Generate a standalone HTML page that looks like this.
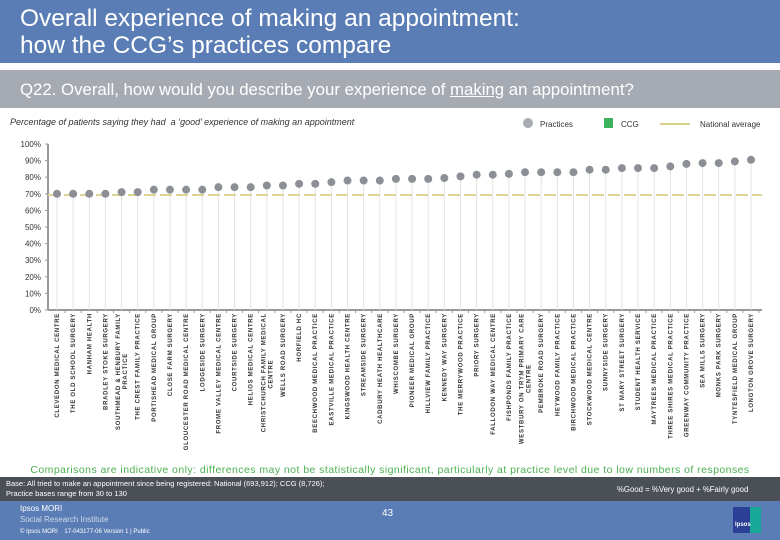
<!DOCTYPE html>
<html><head><meta charset="utf-8"><style>
body{margin:0;width:780px;height:540px;overflow:hidden;background:#fff;font-family:"Liberation Sans",sans-serif;position:relative}
.abs{position:absolute}
</style></head><body>
<div class="abs" style="left:0;top:0;width:780px;height:63px;background:#5a7db5"></div>
<div class="abs" style="left:20px;top:5px;color:#fff;font-size:24.5px;line-height:27px">Overall experience of making an appointment:<br>how the CCG’s practices compare</div>
<div class="abs" style="left:0;top:70px;width:780px;height:38px;background:#a6abb3"></div>
<div class="abs" style="left:20px;top:80px;color:#fff;font-size:16.8px">Q22. Overall, how would you describe your experience of <u>making</u> an appointment?</div>
<div class="abs" style="left:10px;top:117px;color:#333;font-size:9px;font-style:italic">Percentage of patients saying they had&nbsp; a ‘good’ experience of making an appointment</div>

<svg class="abs" style="left:0;top:0" width="780" height="470">
<g id="legend">
<circle cx="528" cy="123" r="5" fill="#a9adb3"/>
<text x="540" y="127" font-size="8" fill="#333">Practices</text>
<rect x="604" y="118" width="9" height="10" fill="#3cb35a"/>
<text x="621" y="127" font-size="8" fill="#333">CCG</text>
<line x1="660" y1="124" x2="690" y2="124" stroke="#d9d08a" stroke-width="2"/>
<text x="700" y="127" font-size="8" fill="#333">National average</text>
</g>
<g id="axes"></g>
<g id="marks"></g>
<g id="xlabels"></g>
</svg>

<div class="abs" style="left:0;width:780px;top:464px;text-align:center;color:#4caf50;font-size:10.5px;letter-spacing:0.45px">Comparisons are indicative only: differences may not be statistically significant, particularly at practice level due to low numbers of responses</div>
<div class="abs" style="left:0;top:477px;width:780px;height:24px;background:#4a5056"></div>
<div class="abs" style="left:6px;top:479px;color:#fff;font-size:7.5px;line-height:10px">Base: All tried to make an appointment since being registered: National (693,912); CCG (8,726);<br>Practice bases range from 30 to 130</div>
<div class="abs" style="left:617px;top:485px;color:#fff;font-size:7.8px">%Good = %Very good + %Fairly good</div>
<div class="abs" style="left:0;top:501px;width:780px;height:39px;background:#5a7db5"></div>
<div class="abs" style="left:20px;top:503px;color:#fff;font-size:8px;line-height:11px">Ipsos MORI<br><span style="color:#cfd9ea">Social Research Institute</span><br><span style="font-size:6px">© Ipsos MORI &nbsp;&nbsp; 17-043177-06 Version 1 | Public</span></div>
<div class="abs" style="left:382px;top:508px;color:#fff;font-size:10px">43</div>
<div class="abs" style="left:733px;top:507px;width:28px;height:26px;background:linear-gradient(90deg,#2a3f95 60%,#17a89a 60%)"><div style="position:absolute;left:2px;top:15px;color:#fff;font-size:6px;font-weight:bold">Ipsos</div></div>

<script>
const categories=[["CLEVEDON MEDICAL CENTRE"],["THE OLD SCHOOL SURGERY"],["HANHAM HEALTH"],["BRADLEY STOKE SURGERY"],["SOUTHMEAD & HENBURY FAMILY","PRACTICE"],["THE CREST FAMILY PRACTICE"],["PORTISHEAD MEDICAL GROUP"],["CLOSE FARM SURGERY"],["GLOUCESTER ROAD MEDICAL CENTRE"],["LODGESIDE SURGERY"],["FROME VALLEY MEDICAL CENTRE"],["COURTSIDE SURGERY"],["HELIOS MEDICAL CENTRE"],["CHRISTCHURCH FAMILY MEDICAL","CENTRE"],["WELLS ROAD SURGERY"],["HORFIELD HC"],["BEECHWOOD MEDICAL PRACTICE"],["EASTVILLE MEDICAL PRACTICE"],["KINGSWOOD HEALTH CENTRE"],["STREAMSIDE SURGERY"],["CADBURY HEATH HEALTHCARE"],["WHISCOMBE SURGERY"],["PIONEER MEDICAL GROUP"],["HILLVIEW FAMILY PRACTICE"],["KENNEDY WAY SURGERY"],["THE MERRYWOOD PRACTICE"],["PRIORY SURGERY"],["FALLODON WAY MEDICAL CENTRE"],["FISHPONDS FAMILY PRACTICE"],["WESTBURY ON TRYM PRIMARY CARE","CENTRE"],["PEMBROKE ROAD SURGERY"],["HEYWOOD FAMILY PRACTICE"],["BIRCHWOOD MEDICAL PRACTICE"],["STOCKWOOD MEDICAL CENTRE"],["SUNNYSIDE SURGERY"],["ST MARY STREET SURGERY"],["STUDENT HEALTH SERVICE"],["MAYTREES MEDICAL PRACTICE"],["THREE SHIRES MEDICAL PRACTICE"],["GREENWAY COMMUNITY PRACTICE"],["SEA MILLS SURGERY"],["MONKS PARK SURGERY"],["TYNTESFIELD MEDICAL GROUP"],["LONGTON GROVE SURGERY"]];
const practiceValues=[70,70,70,70,71,71,72.5,72.5,72.5,72.5,74,74,74,75,75,76,76,77,78,78,78,79,79,79,79.5,80.5,81.5,81.5,82,83,83,83,83,84.5,84.5,85.5,85.5,85.5,86.5,88,88.5,88.5,89.5,90.5];
const nationalAverage=[69.3];
const yTicks=[0,10,20,30,40,50,60,70,80,90,100];
const NS="http://www.w3.org/2000/svg";
const X0=57,X1=751,Y0=310,Y100=144;
function xs(i){return X0+(X1-X0)*i/(categories.length-1);}
function ys(v){return Y0-(Y0-Y100)*v/100;}
function mk(t,a,p){const e=document.createElementNS(NS,t);for(const k in a)e.setAttribute(k,a[k]);p.appendChild(e);return e;}
const ax=document.getElementById('axes'),mg=document.getElementById('marks'),xl=document.getElementById('xlabels');
yTicks.forEach(t=>{
 const tx=mk('text',{x:41,y:ys(t)+3,'font-size':8,fill:'#333','text-anchor':'end'},ax);tx.textContent=t+'%';
 
 
 mk('line',{x1:45,x2:48,y1:ys(t),y2:ys(t),stroke:'#999'},ax);
});
const ya=mk('line',{x1:48,x2:48,y1:Y100,y2:Y0,stroke:'#999','stroke-width':2},ax);


const xa=mk('line',{x1:48,x2:762,y1:Y0,y2:Y0,stroke:'#999','stroke-width':2},ax);


practiceValues.forEach((v,i)=>{
 const x=xs(i);
 mk('line',{x1:x,x2:x,y1:ys(v),y2:Y0,stroke:'#e3e3e3','stroke-width':1},mg);
 mk('line',{x1:x+8,x2:x+8,y1:Y0,y2:Y0+3,stroke:'#999'},ax);
});
const nl=mk('line',{x1:48,x2:762,y1:ys(nationalAverage[0]),y2:ys(nationalAverage[0]),stroke:'#ddd394','stroke-width':2,'stroke-dasharray':'12,4'},mg);


practiceValues.forEach((v,i)=>{
 const c=mk('circle',{cx:xs(i),cy:ys(v),r:4,fill:'#8c9096'},mg);
 
 
});
const CW=4.45;
categories.forEach((lines,i)=>{
 const x=xs(i);
 lines.forEach((s,j)=>{
  const off=(j-(lines.length-1)/2)*7;
  const shift=j>0?-(lines[0].length-s.length)*CW/2:0;
  const t=mk('text',{x:shift,y:0,'font-size':6,'font-weight':'bold','letter-spacing':0.7,fill:'#333','text-anchor':'end',transform:`translate(${x+2+off},313) rotate(-90)`},xl);
  t.textContent=s;
  
  
 });
});
</script>
</body></html>
